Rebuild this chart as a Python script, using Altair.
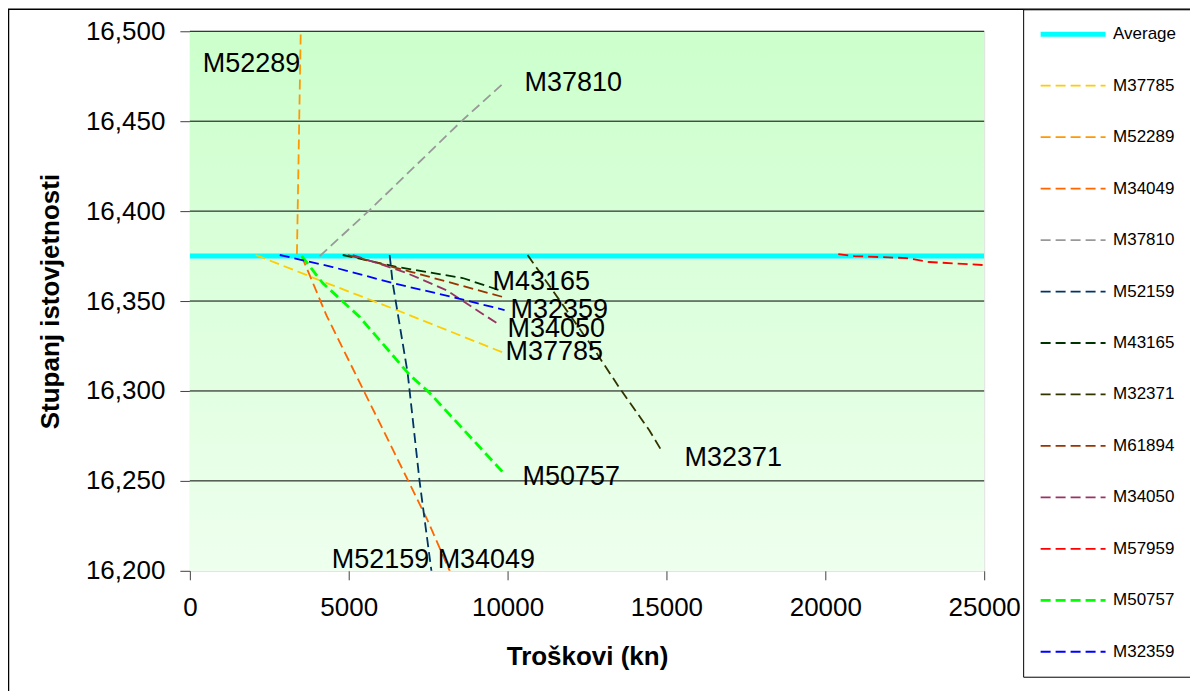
import altair as alt
import pandas as pd

# ---------------- data ----------------
series_order = ["Average", "M37785", "M52289", "M34049", "M37810", "M52159", "M43165",
                "M32371", "M61894", "M34050", "M57959", "M50757", "M32359"]
series_colors = ["#00FFFF", "#FFCC00", "#FF9900", "#FF6600", "#999999", "#003366", "#003300",
                 "#333300", "#993300", "#993366", "#FF0000", "#00FF00", "#0000FF"]

avg_x = [0, 25000]
avg_y = [16.375, 16.375]
m37785_x = [2075, 4308, 6509, 9906]
m37785_y = [16.3756, 16.360, 16.345, 16.321]
m52289_x = [3370, 3500]
m52289_y = [16.376, 16.51]
m34049_x = [3520, 4300, 6290, 7484, 8300]
m34049_y = [16.375, 16.342, 16.271, 16.228, 16.195]
m37810_x = [4088, 5660, 8585, 9906]
m37810_y = [16.375, 16.4006, 16.4506, 16.4717]
m52159_x = [6289, 6384, 6855, 7233, 7640]
m52159_y = [16.3756, 16.360, 16.310, 16.2494, 16.195]
m43165_x = [4811, 6509, 8585, 9748]
m43165_y = [16.3756, 16.369, 16.3628, 16.356]
m32371_x = [10629, 11415, 12736, 13522, 14465, 14874]
m32371_y = [16.3756, 16.356, 16.3228, 16.3017, 16.278, 16.266]
m61894_x = [4969, 7013, 9906]
m61894_y = [16.3756, 16.366, 16.352]
m34050_x = [5126, 6824, 8082, 9748]
m34050_y = [16.3756, 16.3656, 16.356, 16.3367]
m57959_x = [20409, 20912, 22547, 23270, 25000]
m57959_y = [16.3761, 16.375, 16.3739, 16.3717, 16.370]
m50757_x = [3522, 4182, 5346, 6918, 7547, 9843]
m50757_y = [16.375, 16.360, 16.3411, 16.3089, 16.2989, 16.255]
m32359_x = [2830, 4497, 6384, 8270, 9906]
m32359_y = [16.3756, 16.3689, 16.360, 16.3522, 16.345]

label_names = ["M52289", "M37810", "M43165", "M32359", "M34050", "M37785",
               "M32371", "M50757", "M52159", "M34049"]
label_x = [409, 10535, 9528, 10094, 10000, 9937, 15566, 10472, 4465, 7799]
label_y = [16.4817, 16.4711, 16.3608, 16.3450, 16.3347, 16.3214, 16.2628, 16.2522, 16.2061, 16.2061]

x_ticks = [0, 5000, 10000, 15000, 20000, 25000]
y_ticks = [16.20, 16.25, 16.30, 16.35, 16.40, 16.45, 16.50]
grid_y = [16.25, 16.30, 16.35, 16.40, 16.45, 16.50]

# ---------------- build tables ----------------
series_xy = {
    "Average": (avg_x, avg_y), "M37785": (m37785_x, m37785_y), "M52289": (m52289_x, m52289_y),
    "M34049": (m34049_x, m34049_y), "M37810": (m37810_x, m37810_y), "M52159": (m52159_x, m52159_y),
    "M43165": (m43165_x, m43165_y), "M32371": (m32371_x, m32371_y), "M61894": (m61894_x, m61894_y),
    "M34050": (m34050_x, m34050_y), "M57959": (m57959_x, m57959_y), "M50757": (m50757_x, m50757_y),
    "M32359": (m32359_x, m32359_y),
}
rows = []
for name in series_order:
    xs, ys = series_xy[name]
    for i, (xv, yv) in enumerate(zip(xs, ys)):
        rows.append({"series": name, "x": xv, "y": yv, "order": i})
lines_df = pd.DataFrame(rows)
labels_df = pd.DataFrame({"x": label_x, "y": label_y, "text": label_names})
bg_df = pd.DataFrame({"x": [x_ticks[0]], "x2": [x_ticks[-1]], "y": [y_ticks[-1]], "y2": [y_ticks[0]]})
grid_df = pd.DataFrame({"y": grid_y})

series_dashes = [[1, 0]] + [[10, 5]] * 12
series_widths = [5] + [1.8] * 10 + [2.8, 1.8]

FONT = "Liberation Sans"

x_scale = alt.Scale(domain=[0, 25000], nice=False, zero=False)
y_scale = alt.Scale(domain=[16.2, 16.5], nice=False, zero=False)

x_axis = alt.Axis(values=x_ticks, format="d", title="Troškovi (kn)", titleFontSize=26,
                  titleFont=FONT, titleFontWeight="bold", titleColor="black",
                  titleX=397.5, titleY=86, titleBaseline="middle", titleAlign="center",
                  labelFontSize=26, labelFont=FONT, labelColor="black", labelPadding=15,
                  labelFlush=False, labelOverlap=False,
                  tickSize=9, tickColor="#404040", domain=False, grid=False)
y_axis = alt.Axis(values=y_ticks, labelExpr="replace(format(datum.value, '.3f'), '.', ',')",
                  title="Stupanj istovjetnosti", titleFontSize=26, titleFont=FONT,
                  titleFontWeight="bold", titleColor="black", titleAngle=-90,
                  titleX=-139, titleY=270, titleAlign="center", titleBaseline="middle",
                  labelFontSize=26, labelFont=FONT, labelColor="black", labelPadding=15,
                  labelOverlap=False, labelFlush=False,
                  tickSize=10, tickColor="#404040", domain=False, grid=False)

X = alt.X("x:Q", scale=x_scale, axis=x_axis)
Y = alt.Y("y:Q", scale=y_scale, axis=y_axis)

# outer chart frame (decoration around the whole figure)
frame = alt.Chart(bg_df).mark_rect(
    fill=None, stroke="black", strokeWidth=1.5, clip=False
).encode(x=alt.value(-181.5), x2=alt.value(1200), y=alt.value(-22), y2=alt.value(800))

bg = alt.Chart(bg_df).mark_rect(
    color=alt.LinearGradient(
        gradient="linear",
        stops=[alt.GradientStop(color="#CCFFCC", offset=0),
               alt.GradientStop(color="#EEFFEE", offset=1)],
        x1=0, x2=0, y1=0, y2=1)
).encode(x=X, x2="x2:Q", y=Y, y2="y2:Q")

grid = alt.Chart(grid_df).mark_rule(color="black", strokeWidth=1).encode(y=Y)

legend = alt.Legend(
    title=None, orient="none", legendX=834, legendY=-22, direction="vertical",
    symbolType="stroke", symbolSize=4225, clipHeight=20, rowPadding=31.5, padding=15,
    labelFontSize=17, labelFont=FONT, labelColor="black", labelOffset=5,
    fillColor="white", strokeColor="black",
)

lines = alt.Chart(lines_df).mark_line(clip=True).encode(
    x=X, y=Y, order="order:Q",
    color=alt.Color("series:N", scale=alt.Scale(domain=series_order, range=series_colors),
                    sort=series_order, legend=legend),
    strokeDash=alt.StrokeDash("series:N", scale=alt.Scale(domain=series_order, range=series_dashes),
                              sort=series_order, legend=legend),
    strokeWidth=alt.StrokeWidth("series:N",
                                scale=alt.Scale(type="ordinal", domain=series_order, range=series_widths),
                                sort=series_order, legend=legend),
)

labels = alt.Chart(labels_df).mark_text(
    align="left", baseline="middle", fontSize=27, font=FONT, color="black"
).encode(x=X, y=Y, text="text:N")

chart = alt.layer(frame, bg, grid, lines, labels).properties(
    width=795, height=540,
    autosize=alt.AutoSizeParams(type="none"),
    padding={"left": 182, "top": 23, "right": 206, "bottom": 120},
).configure_view(stroke="#808080", strokeWidth=1.5).configure(font=FONT)

chart.save("out.html", embed_options={"renderer": "svg", "actions": False})
